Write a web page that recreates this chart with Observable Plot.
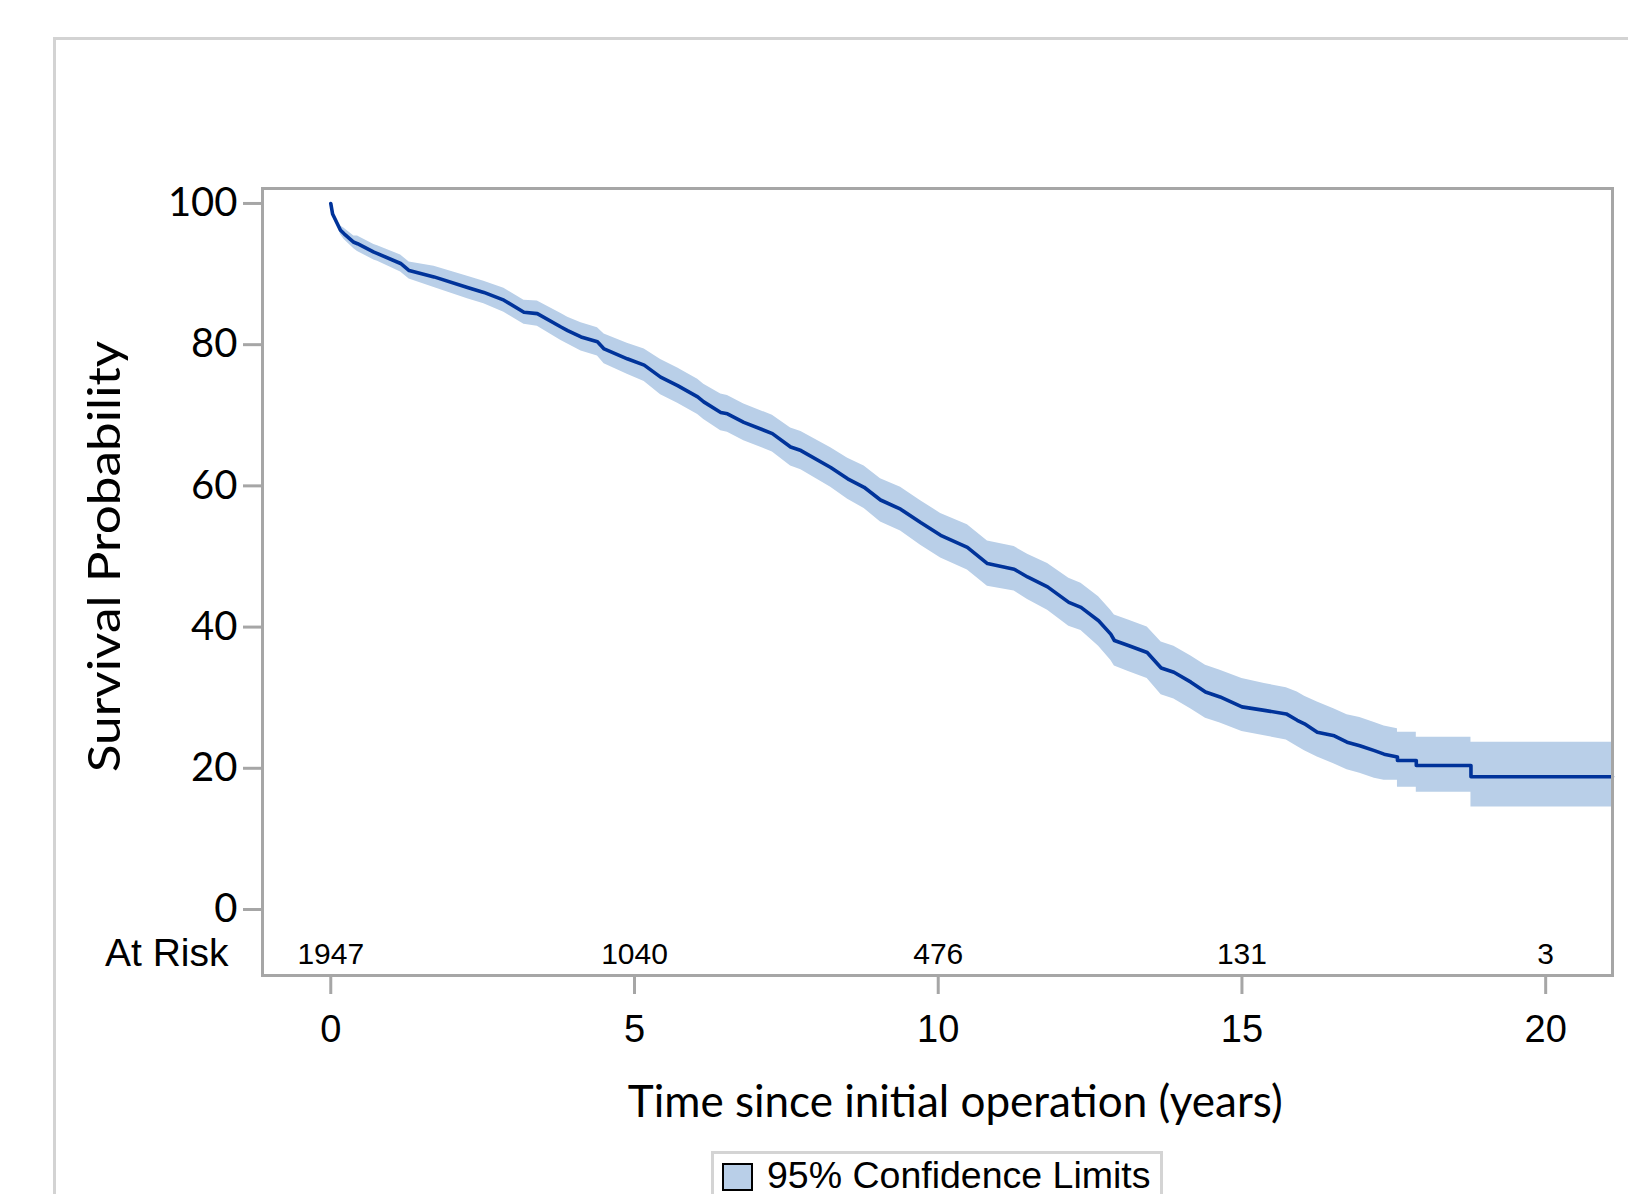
<!DOCTYPE html>
<html>
<head>
<meta charset="utf-8">
<script src="https://cdn.jsdelivr.net/npm/d3@7"></script>
<script src="https://cdn.jsdelivr.net/npm/@observablehq/plot@0.6"></script>
<style>
  html, body { margin: 0; padding: 0; background: #fff; }
  #wrap { position: relative; width: 1628px; height: 1194px; overflow: hidden; background: #fff; }
  #border { position: absolute; left: 53px; top: 37px; width: 1700px; height: 1300px;
            border-left: 3px solid #d3d3d3; border-top: 3px solid #d3d3d3; }
  #chart { position: absolute; left: 0; top: 0; }
  #chart svg { display: block; }
  #legend { position: absolute; left: 711px; top: 1151px; width: 452px; height: 80px;
            border: 3px solid #d4d4d4; box-sizing: border-box; background: #fff; }
  #swatch { position: absolute; left: 8px; top: 9px; width: 27px; height: 24px;
            background: #b9cfe8; border: 2px solid #000; }
  #legtext { position: absolute; left: 53px; top: 3px; font-family: "Liberation Sans", Arial, sans-serif;
             font-size: 37.5px; line-height: 1; white-space: nowrap; color: #000; }
</style>
</head>
<body>
<div id="wrap">
  <div id="border"></div>
  <div id="chart"></div>
  <div id="legend"><div id="swatch"></div><span id="legtext">95% Confidence Limits</span></div>
</div>
<script>
// Kaplan-Meier estimate (percent)
const time = [0.00, 0.03, 0.11, 0.16, 0.22, 0.38, 0.44, 0.71, 0.77, 1.15,
  1.29, 1.70, 2.25, 2.52, 2.85, 3.18, 3.40, 3.79, 3.90, 4.12,
  4.39, 4.50, 4.88, 5.16, 5.43, 5.71, 6.04, 6.14, 6.42, 6.53,
  6.80, 7.27, 7.57, 7.74, 8.23, 8.51, 8.78, 9.05, 9.38, 9.71,
  10.04, 10.48, 10.81, 11.25, 11.47, 11.80, 12.15, 12.35, 12.64, 12.84,
  12.90, 13.13, 13.44, 13.67, 13.88, 14.16, 14.40, 14.64, 15.00, 15.37,
  15.73, 15.91, 16.03, 16.24, 16.52, 16.73, 16.94, 17.18, 17.34, 17.56,
  17.56, 17.87, 17.87, 18.77, 18.77, 21.10];
const survival = [100, 98.5, 97.1, 96.2, 95.7, 94.5, 94.3, 93.1, 92.9, 91.5,
  90.5, 89.6, 88.1, 87.4, 86.3, 84.6, 84.4, 82.5, 82.0, 81.1,
  80.4, 79.4, 78.0, 77.1, 75.4, 74.2, 72.6, 71.9, 70.4, 70.2,
  69.0, 67.4, 65.5, 65.0, 62.6, 61.0, 59.8, 58.0, 56.7, 54.8,
  53.0, 51.3, 49.0, 48.2, 47.1, 45.7, 43.5, 42.8, 40.9, 39.0,
  38.1, 37.4, 36.4, 34.2, 33.6, 32.2, 30.8, 30.1, 28.7, 28.2,
  27.7, 26.8, 26.3, 25.1, 24.6, 23.7, 23.2, 22.5, 22.0, 21.6,
  21.1, 21.1, 20.4, 20.4, 18.8, 18.8];
const lowerCL = [100, 98.5, 96.9, 95.6, 94.9, 93.6, 93.2, 92.0, 91.8, 90.3,
  89.3, 88.1, 86.5, 85.8, 84.6, 82.9, 82.6, 80.6, 80.1, 79.1,
  78.4, 77.3, 75.8, 74.8, 72.9, 71.7, 70.1, 69.4, 67.8, 67.6,
  66.4, 64.8, 62.8, 62.3, 59.8, 58.1, 56.8, 54.9, 53.6, 51.6,
  49.8, 48.1, 45.8, 45.1, 43.9, 42.4, 40.1, 39.5, 37.3, 35.3,
  34.5, 33.7, 32.7, 30.4, 29.8, 28.4, 27.1, 26.4, 25.2, 24.6,
  24.0, 23.1, 22.5, 21.6, 20.6, 19.8, 19.3, 18.6, 18.3, 18.3,
  17.3, 17.3, 16.6, 16.6, 14.5, 14.5];
const upperCL = [100, 98.5, 97.3, 96.8, 96.5, 95.4, 95.4, 94.2, 94.0, 92.7,
  91.7, 91.1, 89.7, 89.0, 88.0, 86.3, 86.2, 84.4, 83.9, 83.1,
  82.4, 81.5, 80.2, 79.4, 77.9, 76.7, 75.1, 74.4, 73.0, 72.8,
  71.6, 70.0, 68.2, 67.7, 65.4, 63.9, 62.8, 61.0, 59.8, 57.9,
  56.1, 54.5, 52.2, 51.4, 50.3, 49.0, 46.9, 46.2, 44.3, 42.4,
  41.7, 41.0, 40.0, 37.9, 37.3, 35.9, 34.6, 33.9, 32.7, 32.0,
  31.4, 30.8, 30.2, 29.4, 28.4, 27.6, 27.2, 26.5, 26.0, 25.6,
  25.1, 25.1, 24.4, 24.4, 23.7, 23.7];

// Number at risk row
const atRiskTimes = [0, 5, 10, 15, 20];
const atRiskCounts = [1947, 1040, 476, 131, 3];

// Axis ticks
const xTicks = [0, 5, 10, 15, 20];
const yTicks = [0, 20, 40, 60, 80, 100];

const rows = time.map((t, i) => ({t, s: survival[i], lo: lowerCL[i], hi: upperCL[i]}));
const riskRows = atRiskTimes.map((t, i) => ({t, n: String(atRiskCounts[i])}));

const axisGray = "#a6a6a6";

const chart = Plot.plot({
  width: 1628,
  height: 1150,
  marginLeft: 262,
  marginRight: 16,
  marginTop: 188,
  marginBottom: 175,
  style: {background: "transparent", color: "#000", overflow: "visible"},
  x: {domain: [-1.124, 21.1]},
  y: {domain: [-9.35, 102.12]},
  marks: [
    Plot.areaY(rows, {x: "t", y1: "lo", y2: "hi", fill: "#b9cfe8", curve: "linear"}),
    Plot.lineY(rows, {x: "t", y: "s", stroke: "#00339a", strokeWidth: 3.6, curve: "linear"}),
    Plot.frame({stroke: axisGray, strokeWidth: 3}),
    Plot.axisY({ticks: yTicks, tickSize: 19, tickPadding: 6, stroke: axisGray, strokeWidth: 3,
      label: null, fontSize: 40, fontFamily: "Lato", fill: "#000"}),
    Plot.axisX({ticks: xTicks, tickSize: 19, tickPadding: 21, stroke: axisGray, strokeWidth: 3,
      label: null, fontSize: 38, fontFamily: "Liberation Sans", fill: "#000"}),
    Plot.text(riskRows, {x: "t", text: "n", frameAnchor: "bottom", lineAnchor: "middle", dy: -21,
      fontSize: 30, fontFamily: "Liberation Sans", fill: "#000"}),
    Plot.text(["At Risk"], {frameAnchor: "bottom-left", dx: -34, dy: -22, textAnchor: "end", lineAnchor: "middle",
      fontSize: 39, fontFamily: "Liberation Sans", fill: "#000"}),
    Plot.text(["Survival Probability"], {y: 50, frameAnchor: "left", dx: -157, rotate: -90,
      textAnchor: "middle", lineAnchor: "middle", fontSize: 45, fontFamily: "Lato", fill: "#000"}),
    Plot.text(["Time since initial operation (years)"], {x: 10, frameAnchor: "bottom", dx: 17, dy: 127,
      textAnchor: "middle", lineAnchor: "middle", fontSize: 44, fontFamily: "Lato", fill: "#000"})
  ]
});
document.getElementById("chart").appendChild(chart);

// stretch the rotated axis title along its length to match the reference proportions
d3.select(chart).selectAll("text")
  .filter(function() { return this.textContent === "Survival Probability"; })
  .each(function() {
    const tr = this.getAttribute("transform") || "";
    this.setAttribute("transform", tr + " scale(1.14,1)");
  });
</script>
</body>
</html>
